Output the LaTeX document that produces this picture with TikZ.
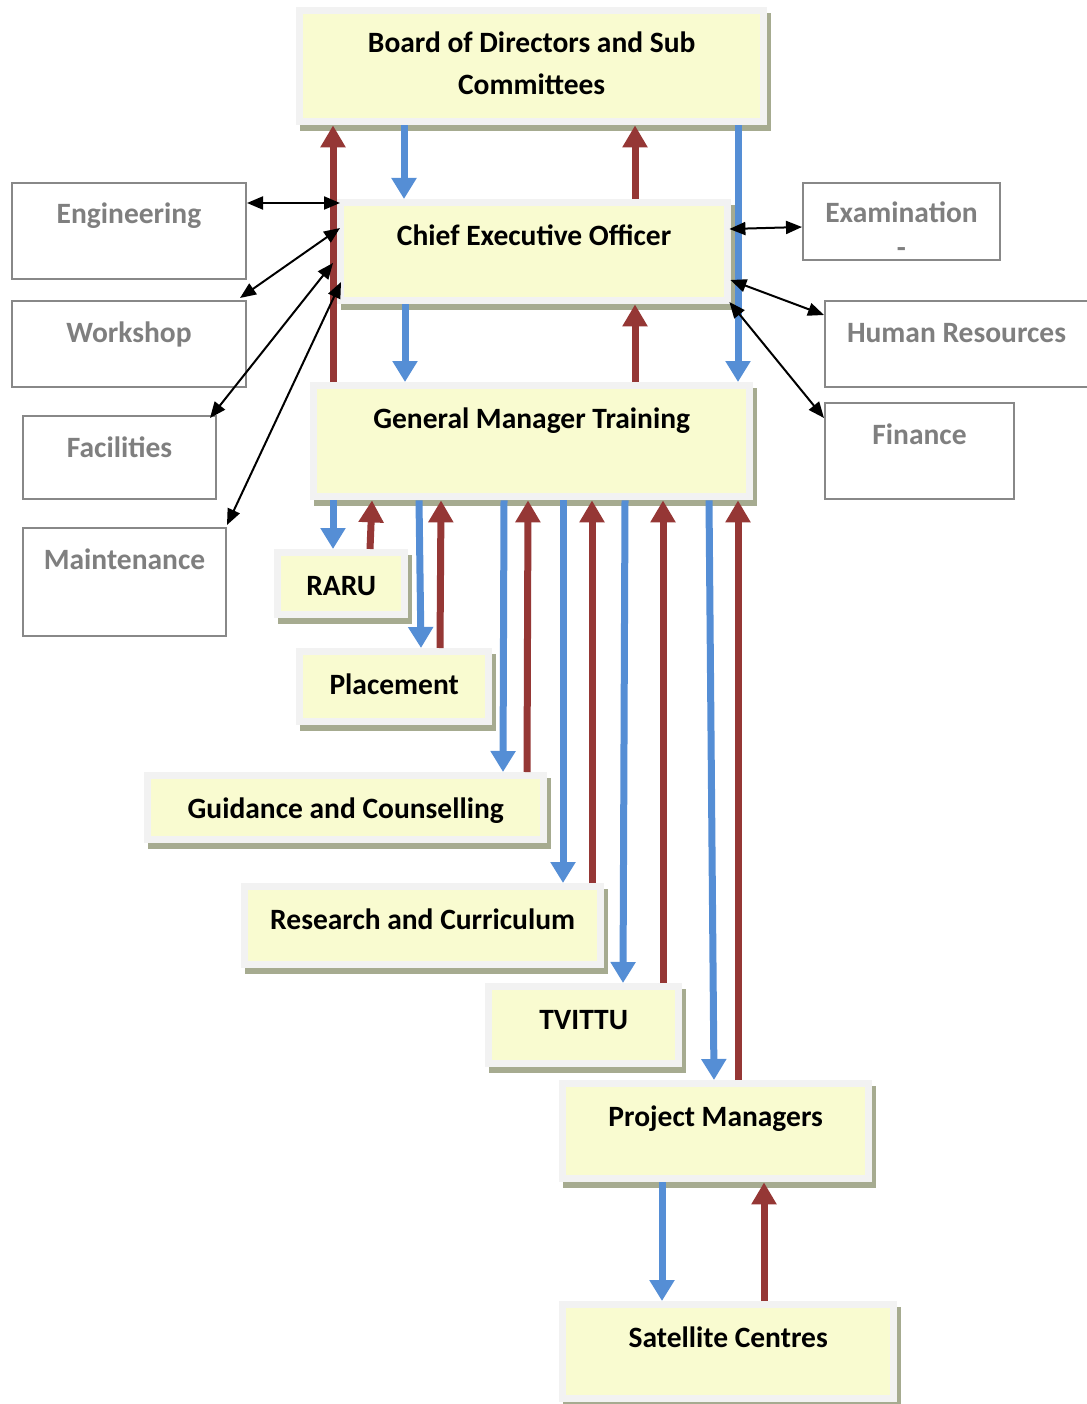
\documentclass[tikz,border=0pt]{standalone}
\usepackage{fontspec}
\setmainfont{Carlito}
\usetikzlibrary{arrows.meta,shadows}

\definecolor{boxyellow}{RGB}{249,251,208}
\definecolor{bandgray}{RGB}{242,242,242}
\definecolor{shadowolive}{RGB}{166,171,144}
\definecolor{flowblue}{RGB}{85,142,213}
\definecolor{flowred}{RGB}{149,55,53}
\definecolor{sidegray}{RGB}{136,136,136}
\definecolor{sidetext}{RGB}{127,127,127}

\newcommand\boxfont{\bfseries\fontsize{29.5}{42}\selectfont}

\tikzset{
  boxsize/.code n args={3}{%
    \pgfmathsetlengthmacro\boxdepth{#2-#3}%
    \pgfkeysalso{minimum width=#1, minimum height=#2, text height=#3, text depth=\boxdepth}},
  mainbox/.style={rectangle, anchor=north west, inner sep=0pt, fill=bandgray, font=\boxfont, align=center,
    drop shadow={shadow xshift=4pt, shadow yshift=-6pt, fill=shadowolive, opacity=1},
    path picture={\fill[boxyellow] ([shift={(7pt,7pt)}]path picture bounding box.south west)
      rectangle ([shift={(-7pt,-7pt)}]path picture bounding box.north east);}},
  sidebox/.style={rectangle, anchor=north west, inner sep=0pt, draw=sidegray, line width=2pt,
    fill=white, text=sidetext, font=\boxfont, align=center},
  flowdown/.style={draw=flowblue, line width=7pt, -{Triangle[length=21pt,width=24pt]}},
  flowup/.style={draw=flowred, line width=7pt, -{Triangle[length=22pt,width=24pt]}},
  link/.style={draw=black, line width=2pt, {Triangle[length=16pt,width=13pt]}-{Triangle[length=16pt,width=13pt]}}
}

\begin{document}
\begin{tikzpicture}[x=1pt, y=-1pt]
  \useasboundingbox (0,0) rectangle (1086,1404);
  % main chain
  \node[mainbox, boxsize={471pt}{118pt}{87pt}] (board) at (296,7) {Board of Directors and Sub\\Committees};
  \node[mainbox, boxsize={394pt}{105pt}{46pt}] (ceo) at (337,199) {Chief Executive Officer};
  \node[mainbox, boxsize={443pt}{118pt}{46pt}] (gm) at (310,382) {General Manager Training};
  % units under the general manager
  \node[mainbox, boxsize={134pt}{69pt}{46pt}] (raru) at (274,549) {RARU};
  \node[mainbox, boxsize={196pt}{77pt}{46pt}] (placement) at (296,648) {Placement};
  \node[mainbox, boxsize={403pt}{71pt}{46pt}] (guidance) at (144,772) {Guidance and Counselling};
  \node[mainbox, boxsize={363pt}{85pt}{46pt}] (research) at (241,883) {Research and Curriculum};
  \node[mainbox, boxsize={197pt}{84pt}{46pt}] (tvittu) at (485,983) {TVITTU};
  \node[mainbox, boxsize={313pt}{102pt}{46pt}] (pm) at (559,1080) {Project Managers};
  \node[mainbox, boxsize={338pt}{101pt}{46pt}] (satellite) at (559,1301) {Satellite Centres};
  % departments round the CEO
  \node[sidebox, boxsize={234pt}{96pt}{41pt}] (engineering) at (11,182) {Engineering};
  \node[sidebox, boxsize={234pt}{86pt}{41pt}] (workshop) at (11,300) {Workshop};
  \node[sidebox, boxsize={193pt}{83pt}{41pt}] (facilities) at (22,415) {Facilities};
  \node[sidebox, boxsize={203pt}{108pt}{41pt}] (maintenance) at (22,527) {Maintenance};
  \node[sidebox, boxsize={197pt}{77pt}{75pt}] (examination) at (802,182) {Examination\\[-7pt]-};
  \node[sidebox, boxsize={263pt}{86pt}{41pt}] (hr) at (824,300) {Human Resources};
  \node[sidebox, boxsize={189pt}{96pt}{41pt}] (finance) at (824,402) {Finance};

  % reporting lines
  \draw[flowup] ([xshift=23pt]gm.north west) -- ([xshift=37pt]board.south west);
  \draw[flowdown] ([xshift=108pt]board.south west) -- ([xshift=67pt]ceo.north west);
  \draw[flowup] ([xshift=298pt]ceo.north west) -- ([xshift=339pt]board.south west);
  \draw[flowdown] ([xshift=442pt]board.south west) -- ([xshift=428pt]gm.north west);
  \draw[flowdown] ([xshift=68pt]ceo.south west) -- ([xshift=95pt]gm.north west);
  \draw[flowup] ([xshift=325pt]gm.north west) -- ([xshift=298pt]ceo.south west);
  \foreach \unit/\gmdn/\undn/\gmup/\unup in {raru/23/59/62/96, placement/109/125/131/144,
      guidance/194/359/218/383, research/253/322/282/351, tvittu/315/138/353/178, pm/399/155/428/179}{
    \draw[flowdown] ([xshift=\gmdn pt]gm.south west) -- ([xshift=\undn pt]\unit.north west);
    \draw[flowup] ([xshift=\unup pt]\unit.north west) -- ([xshift=\gmup pt]gm.south west);
  }
  \draw[flowdown] ([xshift=103pt]pm.south west) -- ([xshift=103pt]satellite.north west);
  \draw[flowup] ([xshift=205pt]satellite.north west) -- ([xshift=205pt]pm.south west);

  % links to the departments
  \draw[link] ([yshift=-21pt]engineering.north east) -- ([shift={(3pt,-4pt)}]ceo.north west);
  \draw[link] ([shift={(-7pt,2pt)}]workshop.north east) -- ([shift={(3pt,-29pt)}]ceo.north west);
  \draw[link] ([shift={(-7pt,-3pt)}]facilities.north east) -- ([shift={(-4pt,-64pt)}]ceo.north west);
  \draw[link] ([yshift=2pt]maintenance.north east) -- ([shift={(4pt,-83pt)}]ceo.north west);
  \draw[link] ([shift={(-2pt,-30pt)}]ceo.north east) -- ([yshift=-45pt]examination.north west);
  \draw[link] ([shift={(-1pt,-81pt)}]ceo.north east) -- ([yshift=-15pt]hr.north west);
  \draw[link] ([shift={(-2pt,-103pt)}]ceo.north east) -- ([yshift=-16pt]finance.north west);
\end{tikzpicture}
\end{document}
